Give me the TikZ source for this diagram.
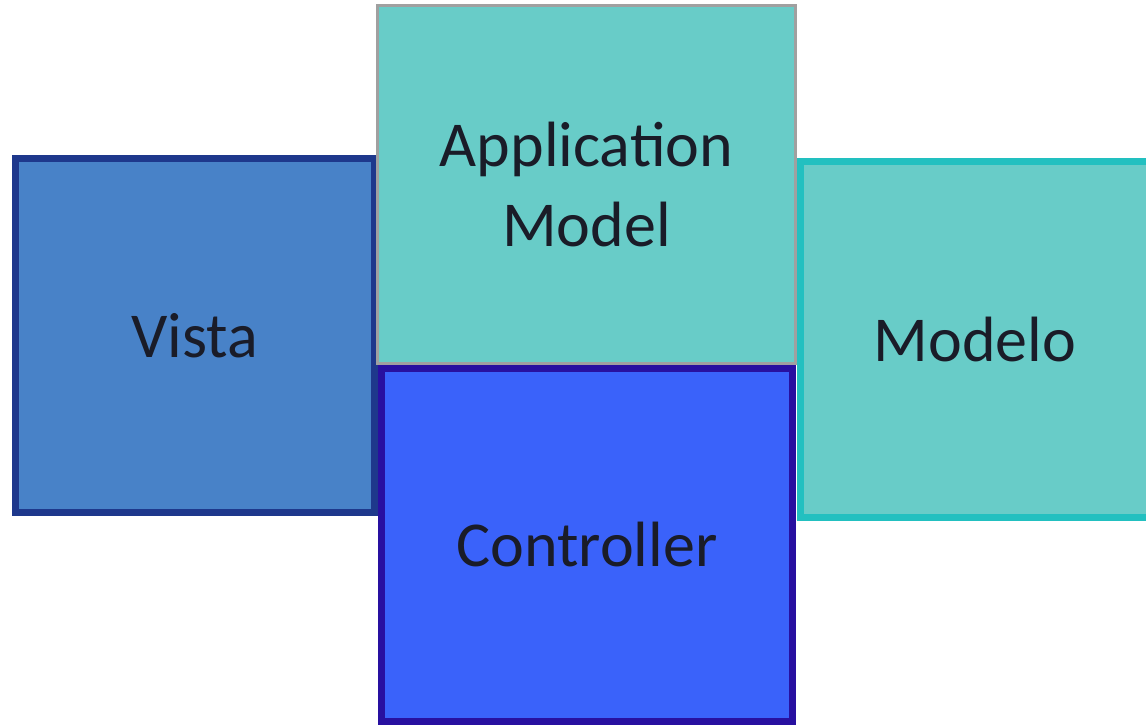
\documentclass[tikz,border=0pt]{standalone}
\usepackage{fontspec}
\setmainfont{Carlito}
\usepackage{xcolor}
\definecolor{vistafill}{RGB}{72,130,200}
\definecolor{vistaline}{RGB}{30,56,140}
\definecolor{tealfill}{RGB}{104,204,200}
\definecolor{appline}{RGB}{160,160,160}
\definecolor{ctrlfill}{RGB}{58,98,250}
\definecolor{ctrlline}{RGB}{40,16,160}
\definecolor{modline}{RGB}{34,192,192}
\definecolor{labeltext}{RGB}{26,28,40}

\begin{document}
\begin{tikzpicture}[x=1pt,y=-1pt,every node/.style={font=\fontsize{64}{80}\selectfont,text=labeltext,align=center}]
\useasboundingbox (0,0) rectangle (1146,727);

\node[draw=vistaline,line width=7pt,fill=vistafill,minimum width=359pt,minimum height=354pt] (vista) at (195,335.5) {Vista};
\node[draw=modline,line width=7pt,fill=tealfill,minimum width=350pt,minimum height=356pt] (modelo) at (975,339.5) {Modelo};
\node[draw=appline,line width=3pt,fill=tealfill,minimum width=418pt,minimum height=358pt] (appmodel) at (586.5,184.5) {Application\\Model};
\node[draw=ctrlline,line width=7pt,fill=ctrlfill,minimum width=411pt,minimum height=353pt] (controller) at (587,545) {Controller};
\end{tikzpicture}
\end{document}
